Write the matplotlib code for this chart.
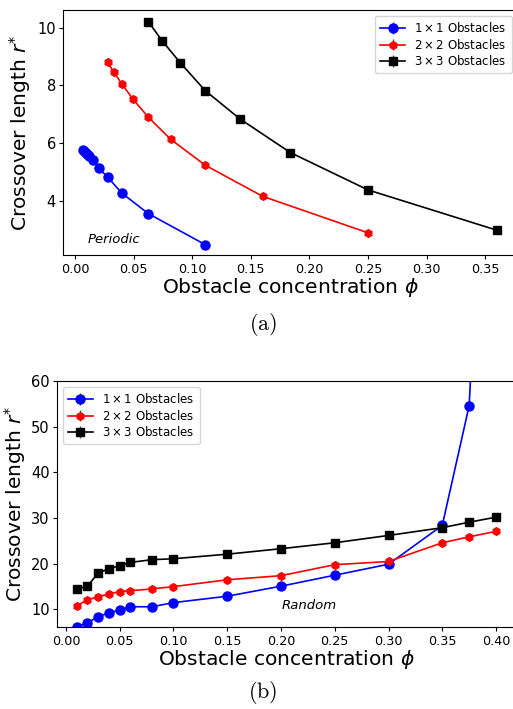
import numpy as np
import matplotlib
matplotlib.use("Agg")
import matplotlib.pyplot as plt

plt.rcParams['mathtext.fontset'] = 'dejavusans'

# ---- Panel (a): periodic ----
phi_a_1 = [1/144, 1/121, 1/100, 1/81, 1/64, 1/49, 1/36, 1/25, 1/16, 1/9]
r_a_1 = [5.76, 5.69, 5.62, 5.55, 5.40, 5.12, 4.82, 4.26, 3.55, 2.47]
phi_a_2 = [4/144, 4/121, 4/100, 4/81, 4/64, 4/49, 4/36, 4/25, 4/16]
r_a_2 = [8.80, 8.47, 8.05, 7.53, 6.90, 6.13, 5.23, 4.15, 2.88]
phi_a_3 = [9/144, 9/121, 9/100, 9/81, 9/64, 9/49, 9/36, 9/25]
r_a_3 = [10.22, 9.55, 8.78, 7.82, 6.84, 5.67, 4.37, 2.97]

# ---- Panel (b): random ----
phi_b = [0.01, 0.02, 0.03, 0.04, 0.05, 0.06, 0.08, 0.10, 0.15, 0.20, 0.25, 0.30, 0.35, 0.375, 0.40]
r_b_1 = [6.2, 7.1, 8.4, 9.3, 9.85, 10.6, 10.6, 11.5, 12.9, 15.1, 17.5, 19.9, 28.4, 54.6, 170.0]
r_b_2 = [10.8, 12.1, 12.8, 13.4, 13.9, 14.1, 14.5, 15.0, 16.5, 17.4, 19.8, 20.5, 24.6, 25.9, 27.1]
r_b_3 = [14.5, 15.1, 18.0, 18.9, 19.6, 20.3, 20.9, 21.1, 22.1, 23.3, 24.6, 26.2, 27.9, 29.1, 30.2]

labels = [r'$1\times1$ Obstacles', r'$2\times2$ Obstacles', r'$3\times3$ Obstacles']
colors = ['blue', 'red', 'black']
markers = ['o', 'h', 's']
msizes = [6.5, 5.5, 6]

fig = plt.figure(figsize=(5.13, 7.09), dpi=100)
ax1 = fig.add_axes([63/513, (709-255)/709, (517.6-63)/513, 245/709])
ax2 = fig.add_axes([56.7/513, (709-627.3)/709, (517-56.7)/513, 246.3/709])

def draw(ax, xs, ys):
    for x, y, c, m, ms, lab in zip(xs, ys, colors, markers, msizes, labels):
        ax.errorbar(x, y, yerr=np.zeros(len(y)), color=c, marker=m, ms=ms,
                    ecolor='green', elinewidth=1, lw=1.2, label=lab)

leg_kw = dict(fontsize=8.5, handlelength=2.1, labelspacing=0.2,
              borderpad=0.45, handletextpad=0.8)

draw(ax1, [phi_a_1, phi_a_2, phi_a_3], [r_a_1, r_a_2, r_a_3])
ax1.set_xlim(-0.0102, 0.3776)
ax1.set_ylim(2.11, 10.62)
ax1.set_xticks([0.00, 0.05, 0.10, 0.15, 0.20, 0.25, 0.30, 0.35])
ax1.set_yticks([4, 6, 8, 10])
ax1.legend(loc='upper right', bbox_to_anchor=(512/513, 1-16/709),
           bbox_transform=fig.transFigure, borderaxespad=0, **leg_kw)
ax1.text(0.0105, 2.66, 'Periodic', style='italic', fontsize=9.5, va='center')

draw(ax2, [phi_b]*3, [r_b_1, r_b_2, r_b_3])
ax2.set_xlim(-0.0086, 0.4195)
ax2.set_ylim(6.1, 60)
ax2.set_xticks([0.00, 0.05, 0.10, 0.15, 0.20, 0.25, 0.30, 0.35, 0.40])
ax2.set_yticks([10, 20, 30, 40, 50, 60])
ax2.legend(loc='upper left', bbox_to_anchor=(62.5/513, 1-387/709),
           bbox_transform=fig.transFigure, borderaxespad=0, **leg_kw)
ax2.text(0.201, 10.95, 'Random', style='italic', fontsize=9.5, va='center')

for ax in (ax1, ax2):
    ax.set_xlabel(r'Obstacle concentration $\phi$', fontsize=14.6, labelpad=0)
    ax.set_ylabel(r'Crossover length $r^{*}$', fontsize=14.6)
    ax.tick_params(axis='x', labelsize=9.2, pad=2.5, length=3)
    ax.tick_params(axis='y', labelsize=10.5, pad=2, length=3)

ax1.yaxis.set_label_coords(-0.066, 0.5)
ax2.yaxis.set_label_coords(-0.0624, 0.5)

fig.text(263/513, 1-325/709, r'$\mathrm{(a)}$', ha='center', va='center',
         fontsize=16, math_fontfamily='cm')
fig.text(263/513, 1-692/709, r'$\mathrm{(b)}$', ha='center', va='center',
         fontsize=16, math_fontfamily='cm')

fig.savefig('out.png', dpi=100)
